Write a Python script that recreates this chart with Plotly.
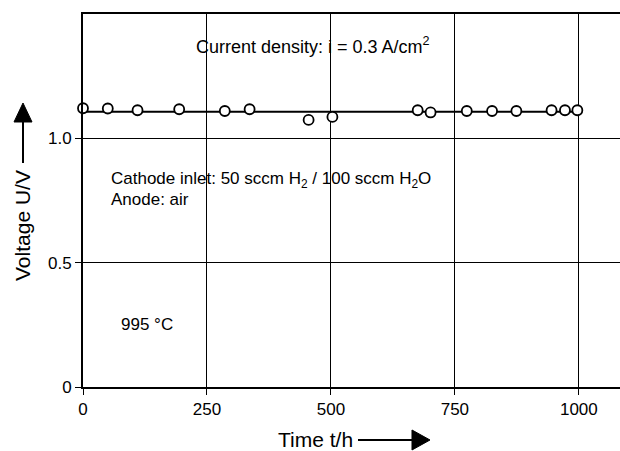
import plotly.graph_objects as go

time_h = [0, 50, 110, 194, 286, 336, 455, 503, 675, 701, 774, 825, 874, 945, 972, 997]
voltage = [1.121, 1.120, 1.113, 1.117, 1.110, 1.117, 1.074, 1.086, 1.113, 1.104,
           1.110, 1.110, 1.110, 1.113, 1.113, 1.113]
fit_t = [0, 997]
fit_v = [1.107, 1.107]
x_ticks = [0, 250, 500, 750, 1000]
y_ticks = [0, 0.5, 1.0]
y_labels = ["0", "0.5", "1.0"]

FONT = "Liberation Sans, Arial, sans-serif"
L, R, T, B, W, H = 83, 0, 14, 64, 620, 451

fig = go.Figure()
fig.add_trace(go.Scatter(x=fit_t, y=fit_v, mode="lines",
                         line=dict(color="black", width=2), showlegend=False))
fig.add_trace(go.Scatter(x=time_h, y=voltage, mode="markers",
                         marker=dict(symbol="circle", size=10, color="white",
                                     line=dict(color="black", width=1.8)),
                         showlegend=False, cliponaxis=False))

fig.update_layout(
    width=W, height=H,
    margin=dict(l=L, r=R, t=T, b=B),
    paper_bgcolor="white", plot_bgcolor="white",
    font=dict(family=FONT, size=17, color="black"),
    xaxis=dict(range=[0, 1083], tickvals=x_ticks, ticks="outside", ticklen=6,
               tickcolor="black", tickwidth=1.3, showline=True, linecolor="black",
               linewidth=2, mirror=True, showgrid=True, gridcolor="black",
               gridwidth=1, zeroline=False, tickfont=dict(size=17)),
    yaxis=dict(range=[0, 1.5], tickvals=y_ticks, ticktext=y_labels, ticks="outside",
               ticklen=6, tickcolor="black", tickwidth=1.3, showline=True,
               linecolor="black", linewidth=2, showgrid=True, gridcolor="black",
               gridwidth=1, zeroline=False, tickfont=dict(size=17)),
)


def px_x(px):
    return (px - L) / (W - L - R)


def px_y(py):
    return (H - B - py) / (H - B - T)


def label(xp, yp, text, size=17, anchor="left", angle=0):
    fig.add_annotation(x=px_x(xp), y=px_y(yp), xref="paper", yref="paper",
                       text=text, showarrow=False, font=dict(size=size),
                       xanchor=anchor, yanchor="middle", textangle=angle)


label(313, 46, "Current density: i = 0.3 A/cm<sup>2</sup>", size=18, anchor="center")
label(109, 180, "Cathode inlet: 50 sccm H<sub>2</sub> / 100 sccm H<sub>2</sub>O")
label(109, 199, "Anode: air")
label(119, 324, "995 °C")

# axis titles
label(315, 439, "Time t/h", size=21, anchor="center")
label(23, 226, "Voltage U/V", size=21, anchor="center", angle=-90)


def line_px(x0, y0, x1, y1):
    fig.add_shape(type="line", xref="paper", yref="paper",
                  x0=px_x(x0), y0=px_y(y0), x1=px_x(x1), y1=px_y(y1),
                  line=dict(color="black", width=2))


def tri_px(pts):
    path = "M " + " L ".join(f"{px_x(a):.5f},{px_y(b):.5f}" for a, b in pts) + " Z"
    fig.add_shape(type="path", xref="paper", yref="paper", path=path,
                  fillcolor="black", line=dict(color="black", width=1))


# horizontal arrow after "Time t/h"
line_px(358, 440, 414, 440)
tri_px([(430, 440), (412, 430), (412, 450)])
# vertical arrow above "Voltage U/V"
line_px(23, 163, 23, 119)
tri_px([(23, 103), (14, 122), (32, 122)])

fig.write_html("out.html", post_script="document.body.style.margin='0';",
               config={"displayModeBar": False})
